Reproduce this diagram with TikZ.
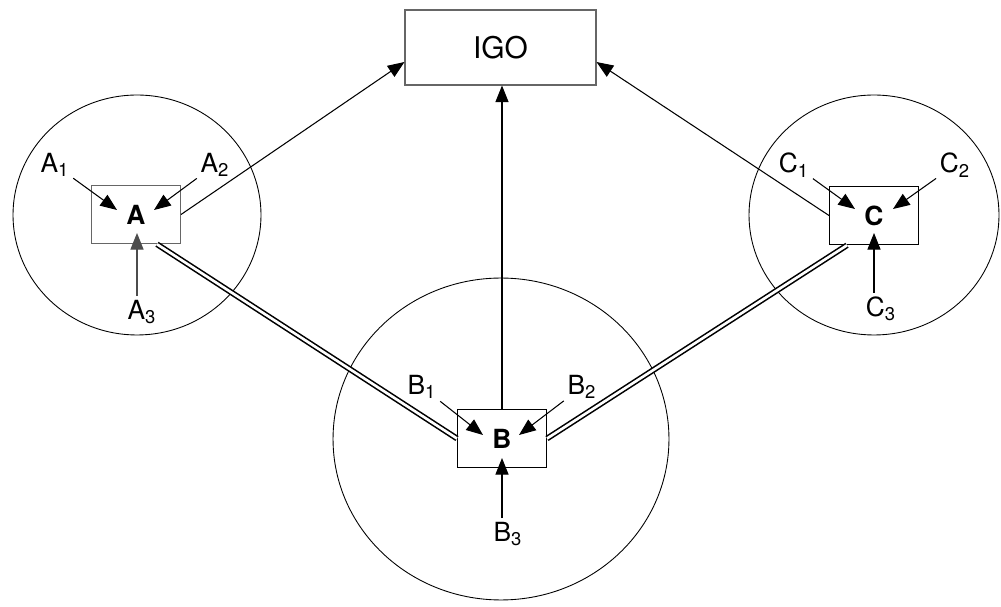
\documentclass[tikz,border=0pt]{standalone}
\usepackage{fontspec}
\setmainfont{TeX Gyre Heros}
\usetikzlibrary{arrows.meta, positioning}

\begin{document}
\begin{tikzpicture}[x=0.02cm, y=-0.02cm,
    unit/.style={draw, line width=0.6pt, minimum width=1.78cm, minimum height=1.17cm, inner sep=0pt, font=\fontsize{15}{17}\selectfont\bfseries},
    lbl/.style={font=\fontsize{15}{17}\selectfont, inner sep=2pt},
    arr/.style={-{Triangle[length=9.5pt, width=7.5pt]}, line width=0.6pt},
    link/.style={double, line width=0.9pt, double distance=1.5pt},
    ring/.style={draw, line width=0.5pt}]
  \useasboundingbox (0,0) rectangle (1001,607);
  \draw[ring] (137,215) ellipse [x radius=2.48cm, y radius=2.4cm];
  \draw[ring] (501,439) ellipse [x radius=3.36cm, y radius=3.22cm];
  \draw[ring] (874,215) ellipse [x radius=2.5cm, y radius=2.4cm];

  \node[draw=black!60, line width=0.6pt, minimum width=3.82cm, minimum height=1.5cm, font=\fontsize{17}{19}\selectfont] (IGO) at (500.5,47.5) {IGO};
  \node[unit, draw=black!60] (A) at (136,214.5) {A};
  \node[unit] (B) at (502,438.5) {B};
  \node[unit] (C) at (874,215.5) {C};

  \node[lbl] (A1) at (55,165) {A\textsubscript{1}};
  \node[lbl] (A2) at (215,165) {A\textsubscript{2}};
  \node[lbl] (A3) at (142,312) {A\textsubscript{3}};
  \node[lbl] (B1) at (422,387) {B\textsubscript{1}};
  \node[lbl] (B2) at (582,387) {B\textsubscript{2}};
  \node[lbl] (B3) at (508,534) {B\textsubscript{3}};
  \node[lbl] (C1) at (794,165) {C\textsubscript{1}};
  \node[lbl] (C2) at (955,165) {C\textsubscript{2}};
  \node[lbl] (C3) at (881,309) {C\textsubscript{3}};

  \coordinate (a1) at (117,210);
  \coordinate (a2) at (154,210);
  \coordinate (a3) at (137,233);
  \coordinate (b1) at (483,435);
  \coordinate (b2) at (519,435);
  \coordinate (b3) at (502,458);
  \coordinate (c1) at (855,209);
  \coordinate (c2) at (893,209);
  \coordinate (c3) at (874,233);

  \draw[arr] (A1) -- (a1);
  \draw[arr] (A2) -- (a2);
  \draw[arr, black!70] (a3 |- A3.north) -- (a3);
  \draw[arr] (B1) -- (b1);
  \draw[arr] (B2) -- (b2);
  \draw[arr] (b3 |- B3.north) -- (b3);
  \draw[arr] (C1) -- (c1);
  \draw[arr] (C2) -- (c2);
  \draw[arr] (c3 |- C3.north) -- (c3);

  \draw[arr] (A.east) -- ([yshift=-0.29cm]IGO.west);
  \draw[arr] (C.west) -- ([yshift=-0.29cm]IGO.east);
  \draw[arr] (B.north) -- (B.north |- IGO.south);

  \draw[link] ([xshift=0.42cm]A.south) -- (B.west);
  \draw[link] (B.east) -- ([xshift=-0.54cm]C.south);
\end{tikzpicture}
\end{document}
